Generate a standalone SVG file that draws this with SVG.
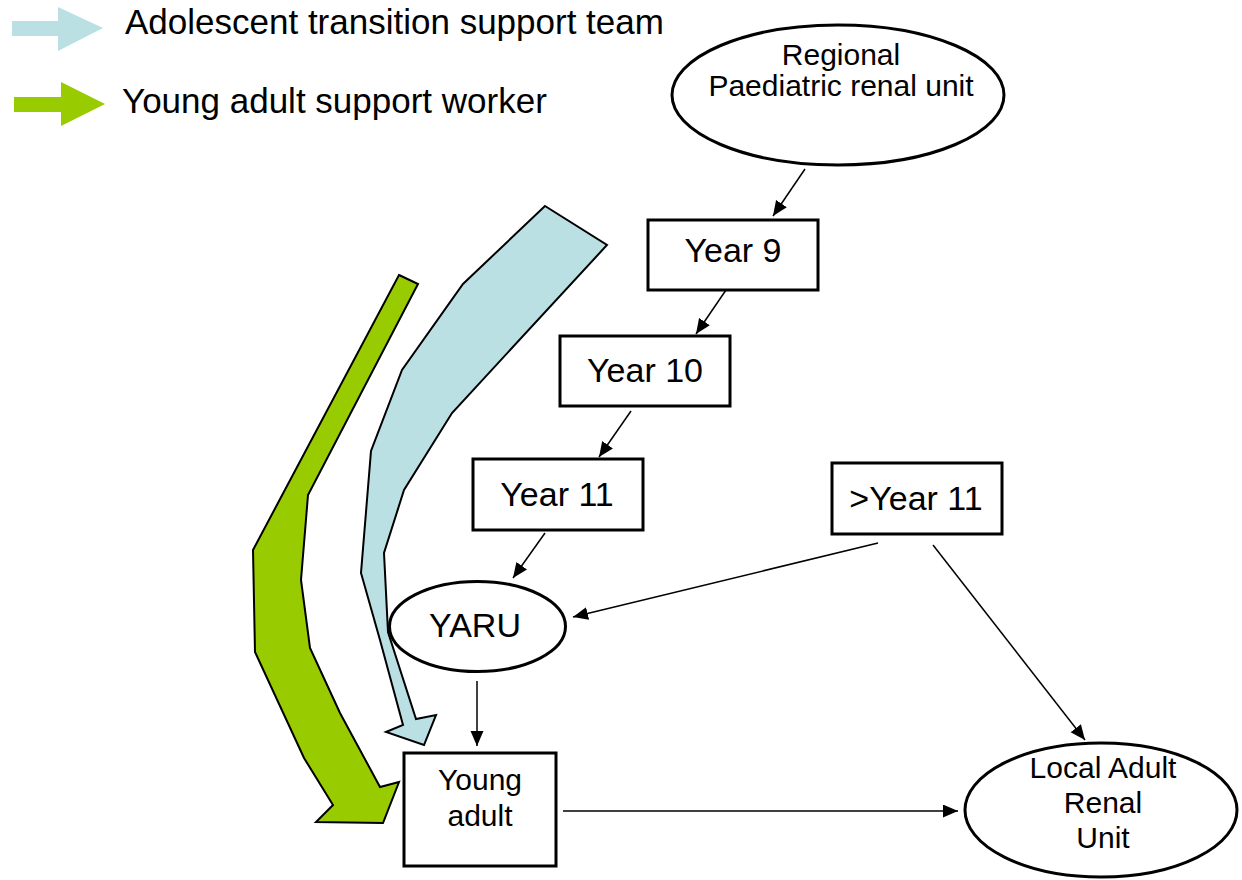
<svg xmlns="http://www.w3.org/2000/svg" width="1242" height="880" viewBox="0 0 1242 880">
<style>
text{font-family:"Liberation Sans",Arial,sans-serif;fill:#000}
.box{fill:#fff;stroke:#000;stroke-width:3}
.ell{fill:#fff;stroke:#000;stroke-width:3}
.lbl{font-size:34px;text-anchor:middle}
.sm{font-size:30px;text-anchor:middle}
.leg{font-size:35px}
.con{stroke:#000;stroke-width:1.5;fill:none;marker-end:url(#ah)}
.blue{fill:#BAE0E4}
.green{fill:#99CC00}
.band{stroke:#000;stroke-width:2;stroke-linejoin:miter}
</style>
<defs>
<marker id="ah" markerUnits="userSpaceOnUse" markerWidth="16" markerHeight="14" refX="15" refY="6.5" orient="auto">
<path d="M0,0 L15,6.5 L0,13 z" fill="#000"/>
</marker>
</defs>
<rect width="1242" height="880" fill="#fff"/>
<g id="legend">
<polygon class="blue" points="12,21 58,21 58,7 103,28 58,51 58,36 12,36"/>
<text class="leg" x="125" y="34">Adolescent transition support team</text>
<polygon class="green" points="14,97 61,97 61,82 105,104 61,126 61,112 14,112"/>
<text class="leg" x="122" y="113">Young adult support worker</text>
</g>
<g id="green-band">
<polygon class="green band" points="399,275 418,284 308,495 301,580 310,648 340,713 380,787 399,782 383,823 316,822 333,805 304,758 255,652 253,550"/>
</g>
<g id="blue-band">
<polygon class="blue band" points="545,206 607,245 452,413 404,490 384,553 388,632 416,719 436,715 424,745 386,732 403,725 380,640 361,573 371,451 402,370 463,284"/>
</g>
<g id="connectors">
<line class="con" x1="805" y1="169" x2="773" y2="216"/>
<line class="con" x1="726" y1="290" x2="696" y2="334"/>
<line class="con" x1="631" y1="411" x2="599" y2="457"/>
<line class="con" x1="545" y1="533" x2="513" y2="578"/>
<line class="con" x1="878" y1="543" x2="573" y2="617"/>
<line class="con" x1="933" y1="545" x2="1085" y2="740"/>
<line class="con" x1="477" y1="681" x2="477" y2="746"/>
<line class="con" x1="563" y1="811" x2="958" y2="811"/>
</g>
<g id="regional">
<ellipse class="ell" cx="838" cy="95" rx="166" ry="70"/>
<text class="sm" x="841" y="65">Regional</text>
<text class="sm" x="841" y="96">Paediatric renal unit</text>
</g>
<g id="year9">
<rect class="box" x="648" y="220" width="170" height="70"/>
<text class="lbl" x="733" y="262">Year 9</text>
</g>
<g id="year10">
<rect class="box" x="560" y="336" width="170" height="70"/>
<text class="lbl" x="645" y="382">Year 10</text>
</g>
<g id="year11">
<rect class="box" x="473" y="459" width="170" height="71"/>
<text class="lbl" x="557" y="506">Year 11</text>
</g>
<g id="gtyear11">
<rect class="box" x="832" y="463" width="170" height="71"/>
<text class="lbl" x="916" y="510">&gt;Year 11</text>
</g>
<g id="yaru">
<ellipse class="ell" cx="477.5" cy="626.5" rx="88" ry="45"/>
<text class="lbl" x="475" y="637">YARU</text>
</g>
<g id="young-adult">
<rect class="box" x="404" y="753" width="152" height="113"/>
<text class="sm" x="480" y="790">Young</text>
<text class="sm" x="480" y="826">adult</text>
</g>
<g id="local-adult">
<ellipse class="ell" cx="1101" cy="810" rx="136" ry="67"/>
<text class="sm" x="1103" y="778">Local Adult</text>
<text class="sm" x="1103" y="813">Renal</text>
<text class="sm" x="1103" y="848">Unit</text>
</g>
</svg>
